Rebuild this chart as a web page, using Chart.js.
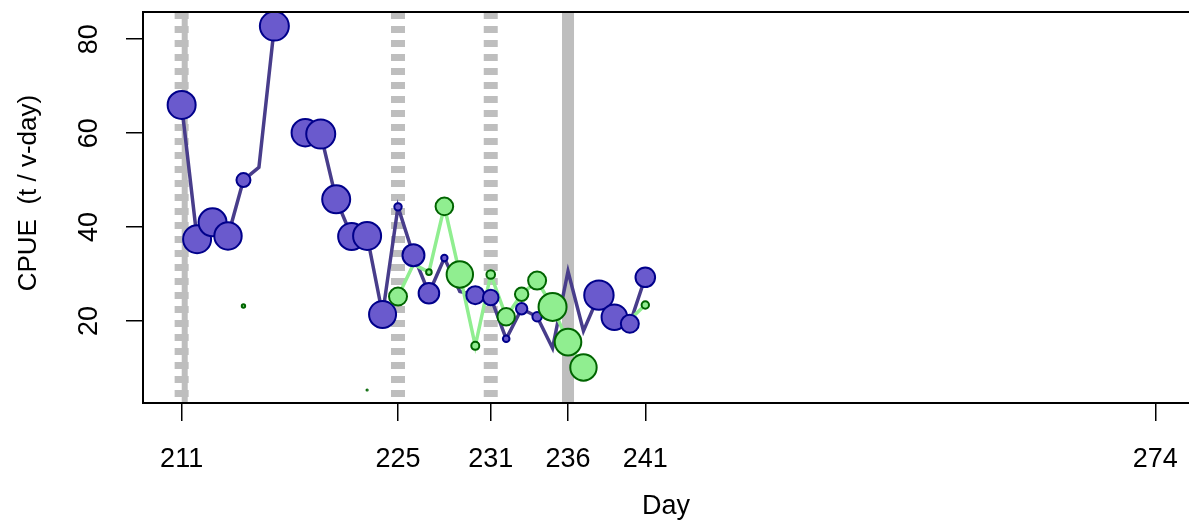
<!DOCTYPE html>
<html>
<head>
<meta charset="utf-8">
<title>CPUE by day</title>
<script src="https://cdn.jsdelivr.net/npm/chart.js"></script>
<style>
    html, body { margin: 0; padding: 0; background: #fff; overflow: hidden; }
    #wrap { width: 1189px; height: 521px; }
    canvas { display: block; }
</style>
</head>
<body>
<div id="wrap"><canvas id="cpueChart" width="1189" height="521"></canvas></div>
<script>
// Day of year for each observation
const days = [211, 212, 213, 214, 215, 216, 217, 218, 219, 220, 221, 222, 223, 224, 225, 226,
              227, 228, 229, 230, 231, 232, 233, 234, 235, 236, 237, 238, 239, 240, 241];

// CPUE (t / v-day), purple series, null = no data
const blueCpue = [66.0, 37.4, 41.0, 38.1, 50.0, 52.7, 82.8, null, 60.1, 59.8, 45.9, 38.0, 38.1, 21.4, 44.3, 34.0,
                  25.9, 33.4, 26.3, 25.5, 25.0, 16.2, 22.6, 20.9, 14.2, 30.6, 17.9, 25.5, 20.8, 19.4, 29.3];
// marker size (radius, px) for each purple value
const blueSize = [15, 15, 15, 14.7, 8, 0, 15.5, 0, 14.7, 15.5, 15, 14.5, 15, 14.5, 4.7, 12,
                  11.3, 4.2, 0, 10, 8.8, 4.3, 6.7, 5.7, 0, 0, 0, 15.7, 13.8, 10, 10.8];

// CPUE, green series
const greenCpue = [null, null, null, null, 23.2, null, null, null, null, null, null, null, 5.3, null, 25.2, 32.1,
                   30.4, 44.4, 29.9, 14.7, 29.9, 20.9, 25.7, 28.6, 23.0, 15.5, 10.1, null, null, 20.3, 23.4];
const greenSize = [0, 0, 0, 0, 2.7, 0, 0, 0, 0, 0, 0, 0, 1.2, 0, 10, 0,
                   3.8, 9.8, 14.2, 5, 5.3, 9.7, 7.7, 10, 15, 14.3, 14.2, 0, 0, 0, 4.7];

const dayTicks = [211, 225, 231, 236, 241, 274];
const cpueTicks = [20, 40, 60, 80];

// grey reference lines
const dashedDays = [211, 225, 231];
const solidDays = [211.2, 236];
const solidWidths = [6, 12];

const font = { family: '"Liberation Sans", Arial, sans-serif', size: 27 };
const yTitleFont = { family: '"Liberation Sans", Arial, sans-serif', size: 26 };

function toPoints(values) {
    return days.map((d, i) => ({ x: d, y: values[i] }));
}
function markers(values, sizes) {
    const pts = [], r = [];
    values.forEach((v, i) => {
        if (v === null) return;
        pts.push({ x: days[i], y: v });
        r.push(sizes[i] > 0 ? Math.max(sizes[i] - 1, 0.6) : 0);
    });
    return { pts, r };
}

const blueM = markers(blueCpue, blueSize);
const greenM = markers(greenCpue, greenSize);

// keep chart area fixed: no extra label padding
function noPad(s) {
    s.paddingLeft = 0;
    s.paddingRight = 0;
    s.paddingTop = 0;
    s.paddingBottom = 0;
}

const refLines = {
    id: 'refLines',
    beforeDatasetsDraw(chart) {
        const { ctx, chartArea: a, scales: { x } } = chart;
        ctx.save();
        ctx.beginPath();
        ctx.rect(a.left, a.top, a.right - a.left, a.bottom - a.top);
        ctx.clip();
        ctx.strokeStyle = '#BEBEBE';
        ctx.lineWidth = 14;
        ctx.setLineDash([7, 7]);
        dashedDays.forEach(d => {
            const px = x.getPixelForValue(d);
            ctx.beginPath();
            ctx.moveTo(px, a.top);
            ctx.lineTo(px, a.bottom);
            ctx.stroke();
        });
        ctx.setLineDash([]);
        solidDays.forEach((d, i) => {
            const px = x.getPixelForValue(d);
            ctx.lineWidth = solidWidths[i];
            ctx.beginPath();
            ctx.moveTo(px, a.top);
            ctx.lineTo(px, a.bottom);
            ctx.stroke();
        });
        ctx.restore();
    }
};

// box: top, left and bottom (right side falls outside the picture)
const frame = {
    id: 'frame',
    afterDatasetsDraw(chart) {
        const { ctx, chartArea: a } = chart;
        ctx.save();
        ctx.strokeStyle = '#000';
        ctx.lineWidth = 2;
        ctx.beginPath();
        ctx.moveTo(a.right + 2, a.top);
        ctx.lineTo(a.left, a.top);
        ctx.lineTo(a.left, a.bottom);
        ctx.lineTo(a.right + 2, a.bottom);
        ctx.stroke();
        ctx.restore();
    }
};

new Chart(document.getElementById('cpueChart'), {
    type: 'line',
    data: {
        datasets: [
            {
                data: toPoints(blueCpue),
                borderColor: '#483D8B',
                borderWidth: 3.5,
                pointRadius: 0,
                pointHoverRadius: 0,
                spanGaps: false,
                tension: 0,
                fill: false,
                order: 4
            },
            {
                data: toPoints(greenCpue),
                borderColor: '#90EE90',
                borderWidth: 3.5,
                pointRadius: 0,
                pointHoverRadius: 0,
                spanGaps: false,
                tension: 0,
                fill: false,
                order: 3
            },
            {
                data: blueM.pts,
                showLine: false,
                pointRadius: blueM.r,
                pointBackgroundColor: '#6A5ACD',
                pointBorderColor: '#00008B',
                pointBorderWidth: 2,
                order: 2
            },
            {
                data: greenM.pts,
                showLine: false,
                pointRadius: greenM.r,
                pointBackgroundColor: '#90EE90',
                pointBorderColor: '#006400',
                pointBorderWidth: 2,
                order: 1
            }
        ]
    },
    options: {
        responsive: false,
        animation: false,
        devicePixelRatio: 1,
        layout: { autoPadding: false, padding: { top: 12, right: 0, left: 0, bottom: 0 } },
        plugins: { legend: { display: false }, tooltip: { enabled: false } },
        scales: {
            x: {
                type: 'linear',
                min: 208.5,
                max: 276.18,
                afterBuildTicks: s => { s.ticks = dayTicks.map(v => ({ value: v })); },
                afterFit: s => { s.height = 118; noPad(s); },
                ticks: { font, color: '#000', padding: 22, autoSkip: false, maxRotation: 0, callback: v => String(v) },
                grid: { drawOnChartArea: false, drawTicks: true, tickLength: 18, color: '#000', lineWidth: 1.5 },
                border: { display: false },
                title: { display: true, text: 'Day', font, color: '#000', padding: { top: 0, bottom: -2 } }
            },
            y: {
                type: 'linear',
                min: 2.53,
                max: 85.8,
                afterBuildTicks: s => { s.ticks = cpueTicks.map(v => ({ value: v })); },
                afterFit: s => { s.width = 143; noPad(s); },
                ticks: { font, color: '#000', padding: 21, autoSkip: false, minRotation: 90, maxRotation: 90, crossAlign: 'center', callback: v => String(v) },
                grid: { drawOnChartArea: false, drawTicks: true, tickLength: 17, color: '#000', lineWidth: 1.5 },
                border: { display: false },
                title: { display: true, text: '    CPUE  (t / v-day)', font: yTitleFont, color: '#000', padding: { top: 13, bottom: 0 } }
            }
        }
    },
    plugins: [refLines, frame]
});
</script>
</body>
</html>
